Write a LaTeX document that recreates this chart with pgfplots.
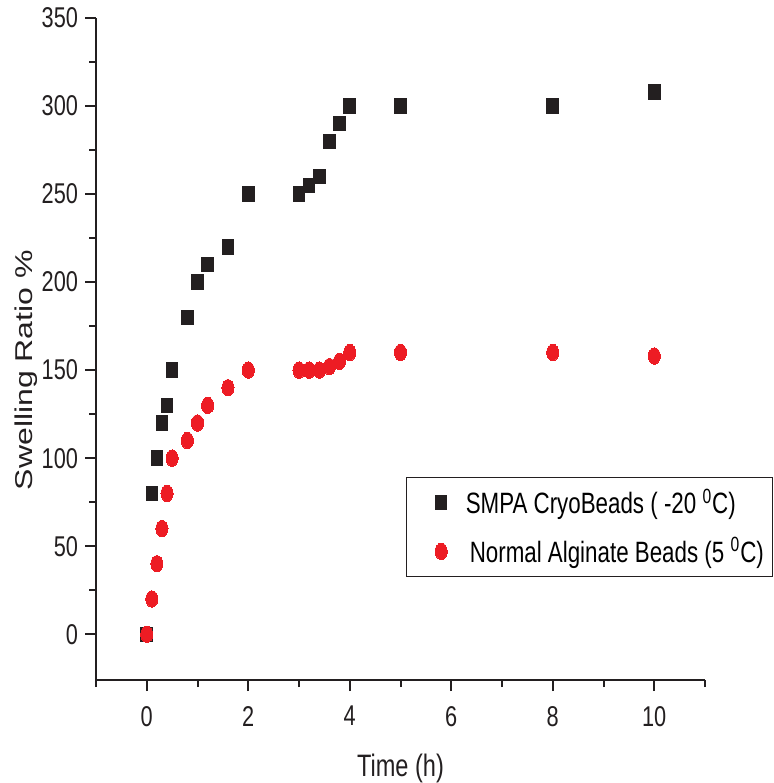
\documentclass[border=0pt]{standalone}
\usepackage{pgfplots}
\pgfplotsset{compat=1.18}
\usepackage{graphicx}
\usepackage{fontspec}
\setmainfont{Liberation Sans}[FakeStretch=0.76]
\newfontfamily\ylabfont{Liberation Sans}
\definecolor{sqcol}{RGB}{35,31,32}
\definecolor{dotcol}{RGB}{237,28,36}

\begin{document}
\begin{tikzpicture}
\begin{axis}[
    name=ax,
    scale only axis,
    width=304.5pt, height=331pt,
    xmin=-1, xmax=11,
    ymin=-26, ymax=350,
    axis lines*=left,
    axis line style={line width=1pt, color=sqcol},
    every tick/.style={line width=1pt, color=sqcol},
    tick align=outside,
    major tick length=5.5pt,
    minor tick length=3.5pt,
    xtick={0,2,4,6,8,10},
    ytick={0,50,100,150,200,250,300,350},
    minor x tick num=1,
    minor y tick num=1,
    extra x ticks={-1,11},
    extra x tick labels={},
    extra x tick style={major tick length=3.5pt},
    tick label style={font=\fontsize{14.3}{16}\selectfont, color=sqcol},
    xticklabel style={yshift=-4pt},
    /pgf/number format/assume math mode=true,
    clip=false,
    xlabel={Time (h)},
    ylabel={\scalebox{1}[0.76]{\ylabfont\fontsize{16}{18}\selectfont Swelling Ratio \%}},
    every axis x label/.style={at={(rel axis cs:0.5,-0.1465)}, anchor=base,
        font=\fontsize{15.5}{18}\selectfont, color=sqcol},
    every axis y label/.style={at={(rel axis cs:-0.115,0.468)}, rotate=90,
        anchor=center, color=sqcol},
    legend style={at={(rel axis cs:0.509,0.3066)}, anchor=north west,
        draw=sqcol, line width=0.6pt, inner xsep=5pt, inner ysep=5.5pt,
        row sep=10.5pt, font=\fontsize{14.7}{16}\selectfont,
        nodes={inner sep=0pt},
        /tikz/every even column/.append style={column sep=1pt}},
    legend cell align=left,
    legend image code/.code={%
        \path (0pt,0pt) (24pt,0pt);
        \draw[mark repeat=2, mark phase=2, #1]
        plot coordinates {(0pt,0pt) (12pt,0pt) (24pt,0pt)};},
]
\addplot[only marks, mark=square*, mark size=3.6pt,
    mark options={xscale=0.8, fill=sqcol, draw=sqcol, line width=0pt}]
coordinates {
    (0,0) (0.1,80) (0.2,100) (0.3,120) (0.4,130) (0.5,150)
    (0.8,180) (1.0,200) (1.2,210) (1.6,220) (2,250)
    (3,250) (3.2,255) (3.4,260) (3.6,280) (3.8,290) (4,300)
    (5,300) (8,300) (10,308)
};
\addlegendentry{\makebox[148.5pt][l]{SMPA CryoBeads ( -20 \textsuperscript{0}C)}}
\addplot[only marks, mark=*, mark size=4.1pt,
    mark options={xscale=0.74, fill=dotcol, draw=dotcol, line width=0pt}]
coordinates {
    (0,0) (0.1,20) (0.2,40) (0.3,60) (0.4,80) (0.5,100)
    (0.8,110) (1.0,120) (1.2,130) (1.6,140) (2,150)
    (3,150) (3.2,150) (3.4,150) (3.6,152) (3.8,155) (4,160)
    (5,160) (8,160) (10,158)
};
\addlegendentry{\makebox[148.5pt][l]{\hspace{2pt}Normal Alginate Beads (5 \textsuperscript{0}C)}}
\end{axis}
\pgfresetboundingbox
\path[use as bounding box] ([xshift=-48pt,yshift=-51.5pt]ax.south west)
    rectangle ([xshift=34.5pt,yshift=9pt]ax.north east);
\end{tikzpicture}
\end{document}
